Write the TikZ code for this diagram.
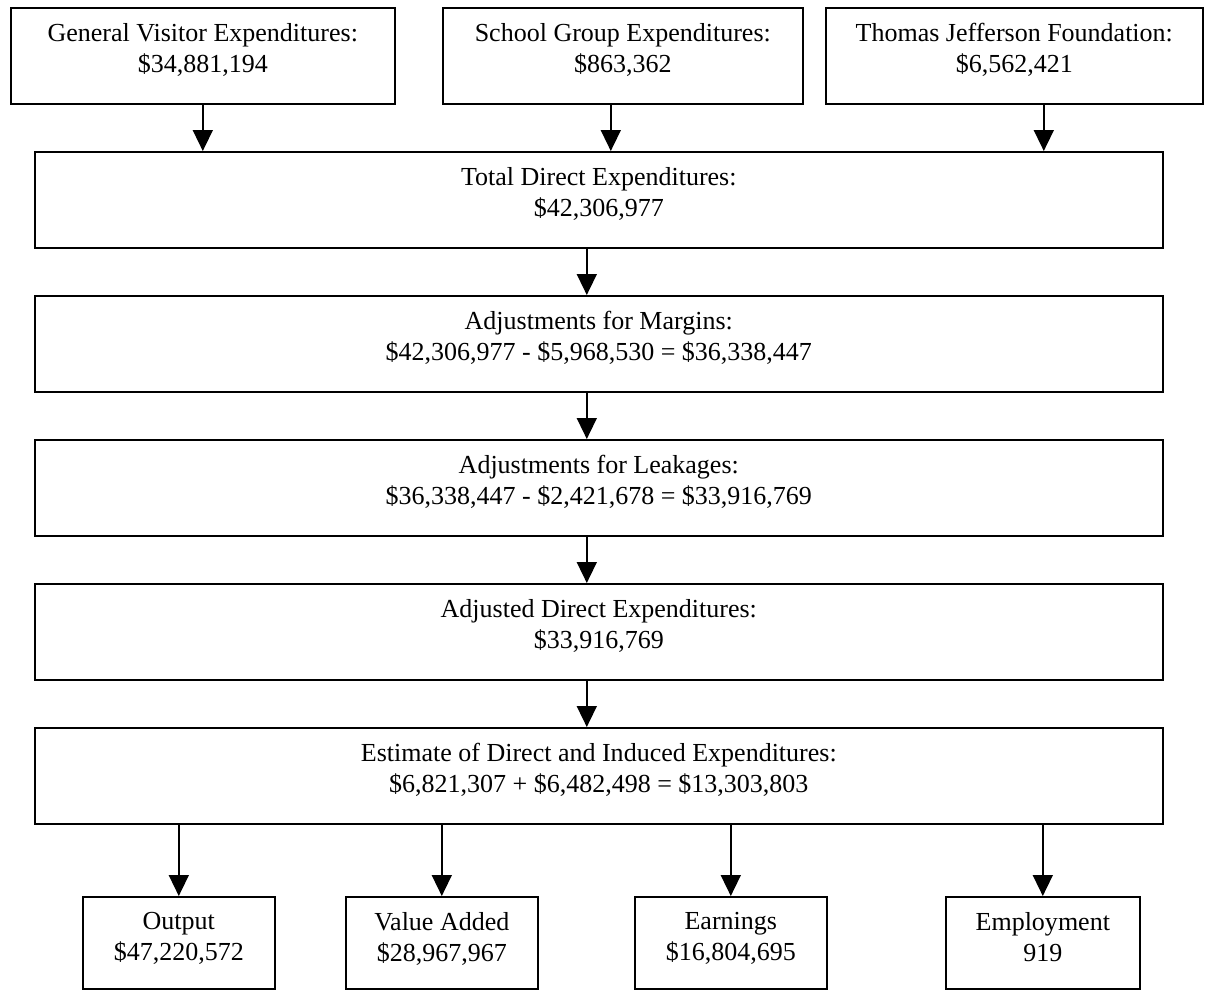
\documentclass[tikz,border=0pt]{standalone}
\usepackage{fontspec}
\setmainfont{Liberation Serif}
\usetikzlibrary{arrows.meta,calc}
\begin{document}
\begin{tikzpicture}[x=1pt,y=-1pt,
  box/.style={draw, line width=1.6pt, inner sep=0pt, anchor=north west},
  txt/.style={anchor=north, inner sep=0pt, align=center, font=\fontsize{26}{31}\selectfont},
  arr/.style={line width=1.6pt, -{Triangle[length=21pt,width=20pt]}}]
\useasboundingbox (0,0) rectangle (1206,990);
\fill[white] (0,0) rectangle (1206,990);
% top row
\node[box, minimum width=384pt, minimum height=96pt] (b1) at (10,7) {};
\node[box, minimum width=360pt, minimum height=96pt] (b2) at (442,7) {};
\node[box, minimum width=377pt, minimum height=96pt] (b3) at (825,7) {};
% middle column
\node[box, minimum width=1128pt, minimum height=96pt] (tot) at (34,151) {};
\node[box, minimum width=1128pt, minimum height=96pt] (mar) at (34,295) {};
\node[box, minimum width=1128pt, minimum height=96pt] (lea) at (34,439) {};
\node[box, minimum width=1128pt, minimum height=96pt] (adj) at (34,583) {};
\node[box, minimum width=1128pt, minimum height=96pt] (est) at (34,727) {};
% bottom row
\node[box, minimum width=192pt, minimum height=92pt] (out) at (82,896) {};
\node[box, minimum width=192pt, minimum height=92pt] (va) at (345,896) {};
\node[box, minimum width=192pt, minimum height=92pt] (ear) at (634,896) {};
\node[box, minimum width=194pt, minimum height=92pt] (emp) at (945,896) {};
% texts
\node[txt] (t1) at ([yshift=-16pt]b1.north) {General Visitor Expenditures:\\\$34,881,194};
\node[txt] (t2) at ([yshift=-16pt]b2.north) {School Group Expenditures:\\\$863,362};
\node[txt] (t3) at ([yshift=-16pt]b3.north) {Thomas Jefferson Foundation:\\\$6,562,421};
\node[txt] (ttot) at ([yshift=-16pt]tot.north) {Total Direct Expenditures:\\\$42,306,977};
\node[txt] (tmar) at ([yshift=-16pt]mar.north) {Adjustments for Margins:\\\$42,306,977 - \$5,968,530 = \$36,338,447};
\node[txt] (tlea) at ([yshift=-16pt]lea.north) {Adjustments for Leakages:\\\$36,338,447 - \$2,421,678 = \$33,916,769};
\node[txt] (tadj) at ([yshift=-16pt]adj.north) {Adjusted Direct Expenditures:\\\$33,916,769};
\node[txt] (test) at ([yshift=-16pt]est.north) {Estimate of Direct and Induced Expenditures:\\\$6,821,307 + \$6,482,498 = \$13,303,803};
\node[txt] (tout) at ([yshift=-16pt]out.north) {Output\\\$47,220,572};
\node[txt] (tva) at ([yshift=-16pt]va.north) {Value Added\\\$28,967,967};
\node[txt] (tear) at ([yshift=-16pt]ear.north) {Earnings\\\$16,804,695};
\node[txt] (temp) at ([yshift=-16pt]emp.north) {Employment\\919};
% arrows
\draw[arr] (b1.south) -- (b1.south |- tot.north);
\draw[arr] ([xshift=-12pt]b2.south) -- ([xshift=-12pt]b2.south |- tot.north);
\draw[arr] ([xshift=29.5pt]b3.south) -- ([xshift=29.5pt]b3.south |- tot.north);
\draw[arr] ([xshift=-12pt]tot.south) -- ([xshift=-12pt]mar.north);
\draw[arr] ([xshift=-12pt]mar.south) -- ([xshift=-12pt]lea.north);
\draw[arr] ([xshift=-12pt]lea.south) -- ([xshift=-12pt]adj.north);
\draw[arr] ([xshift=-12pt]adj.south) -- ([xshift=-12pt]est.north);
\draw[arr] (out.north |- est.south) -- (out.north);
\draw[arr] (va.north |- est.south) -- (va.north);
\draw[arr] (ear.north |- est.south) -- (ear.north);
\draw[arr] (emp.north |- est.south) -- (emp.north);
\end{tikzpicture}
\end{document}
